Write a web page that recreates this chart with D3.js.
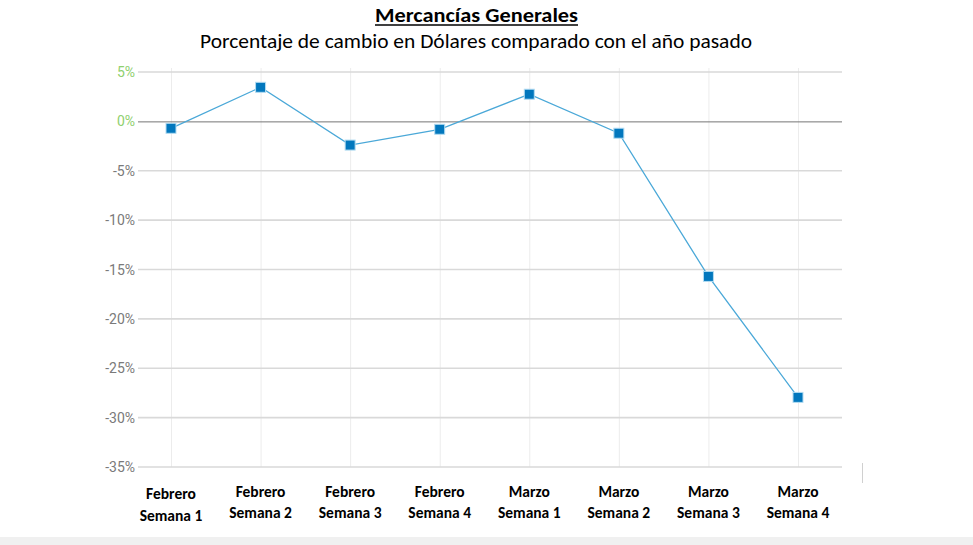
<!DOCTYPE html>
<html><head><meta charset="utf-8">
<script src="https://cdn.jsdelivr.net/npm/d3@7"></script>
<style>
html,body{margin:0;padding:0;background:#fff;}
svg{display:block;}
</style></head>
<body>
<svg id="chart" width="973" height="545"></svg>
<script>
const categoriesTop = ["Febrero","Febrero","Febrero","Febrero","Marzo","Marzo","Marzo","Marzo"];
const categoriesBottom = ["Semana 1","Semana 2","Semana 3","Semana 4","Semana 1","Semana 2","Semana 3","Semana 4"];
const values = [-0.7, 3.45, -2.4, -0.8, 2.75, -1.2, -15.7, -27.95];
const yTicks = [5, 0, -5, -10, -15, -20, -25, -30, -35];
const titleText = "Mercancías Generales";
const subtitleText = "Porcentaje de cambio en Dólares comparado con el año pasado";

const svg = d3.select("#chart");
const plotLeft = 138, plotRight = 842, plotTop = 72, plotBottom = 467;

const x = d3.scalePoint().domain(d3.range(values.length)).range([171, 798]);
const y = d3.scaleLinear().domain([-35, 5]).range([plotBottom, plotTop]);

// bottom band
svg.append("rect").attr("x",0).attr("y",537).attr("width",973).attr("height",8).attr("fill","#f0f0f0");
// small vertical line
svg.append("line").attr("x1",862.5).attr("x2",862.5).attr("y1",463).attr("y2",483).attr("stroke","#d0d0d0").attr("stroke-width",1);

// title
svg.append("text").attr("x",476.5).attr("y",22).attr("text-anchor","middle")
  .attr("font-family","Carlito, 'Liberation Sans Narrow', 'Open Sans', sans-serif").attr("font-weight","bold")
  .attr("font-size",20).attr("fill","#000").attr("textLength",203).attr("lengthAdjust","spacingAndGlyphs")
  .text(titleText);
svg.append("line").attr("x1",375).attr("x2",578).attr("y1",25).attr("y2",25).attr("stroke","#000").attr("stroke-width",1.3);
svg.append("text").attr("x",476).attr("y",48).attr("text-anchor","middle")
  .attr("font-family","Carlito, 'Liberation Sans Narrow', 'Open Sans', sans-serif")
  .attr("font-size",20).attr("fill","#000").attr("textLength",552).attr("lengthAdjust","spacingAndGlyphs")
  .text(subtitleText);

// vertical grid
svg.append("g").selectAll("line").data(d3.range(values.length)).join("line")
  .attr("x1",d=>x(d)+0.5).attr("x2",d=>x(d)+0.5).attr("y1",plotTop-4).attr("y2",plotBottom)
  .attr("stroke","#ececec").attr("stroke-width",1);

// horizontal grid
svg.append("g").selectAll("line").data(yTicks.filter(d=>d!==0)).join("line")
  .attr("x1",plotLeft).attr("x2",plotRight).attr("y1",d=>y(d)).attr("y2",d=>y(d))
  .attr("stroke","#d9d9d9").attr("stroke-width",1.6);
svg.append("line").attr("x1",plotLeft).attr("x2",plotRight).attr("y1",y(0)+0.5).attr("y2",y(0)+0.5)
  .attr("stroke","#757575").attr("stroke-width",1);

// y labels
svg.append("g").selectAll("text").data(yTicks).join("text")
  .attr("x",135).attr("y",d=>y(d)+5).attr("text-anchor","end")
  .attr("font-family","Roboto, sans-serif").attr("font-size",14)
  .attr("fill",d=>d>=0?"#8fd06f":"#7a7a7a")
  .text(d=>d+"%");

// line
const line = d3.line().x((d,i)=>x(i)).y(d=>y(d));
svg.append("path").datum(values).attr("d",line).attr("fill","none")
  .attr("stroke","#4aa8d8").attr("stroke-width",1.3);

// markers
svg.append("g").selectAll("rect").data(values).join("rect")
  .attr("x",(d,i)=>x(i)-5).attr("y",d=>y(d)-5).attr("width",10).attr("height",10)
  .attr("fill","#0277bd").attr("stroke","#b3dcf2").attr("stroke-width",1);

// x labels
const xl = svg.append("g").attr("font-family","Carlito, 'Liberation Sans Narrow', 'Open Sans', sans-serif")
  .attr("font-weight","bold").attr("font-size",15.5).attr("fill","#000").attr("text-anchor","middle");
xl.selectAll("text.t").data(categoriesTop).join("text").attr("class","t")
  .attr("x",(d,i)=>x(i)).attr("y",(d,i)=>i===0?499:497).text(d=>d);
xl.selectAll("text.b").data(categoriesBottom).join("text").attr("class","b")
  .attr("x",(d,i)=>x(i)).attr("y",(d,i)=>i===0?521:518).text(d=>d);
</script>
</body></html>
